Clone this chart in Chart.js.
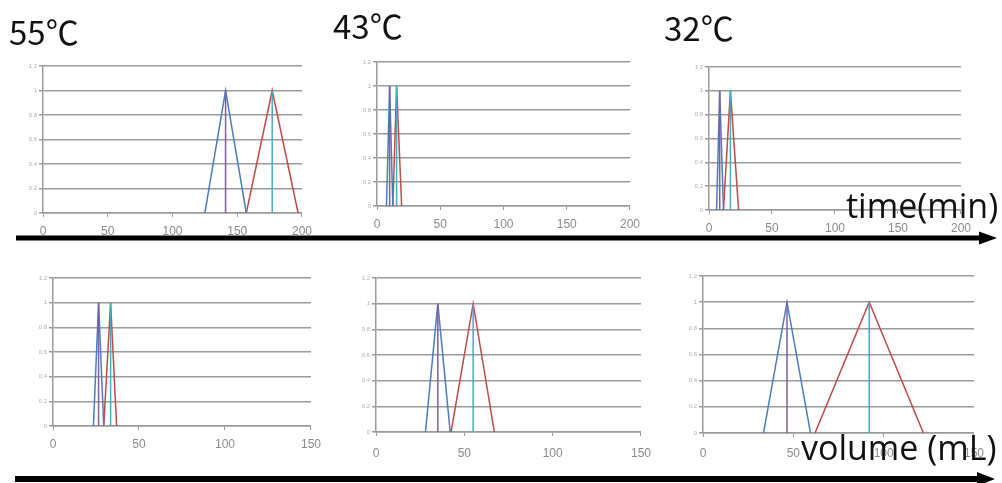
<!DOCTYPE html>
<html>
<head>
<meta charset="utf-8">
<script src="https://cdn.jsdelivr.net/npm/chart.js@4.4.1/dist/chart.umd.min.js"></script>
<style>
  body { margin: 0; background: #fff; }
  #board { position: relative; width: 1002px; height: 483px; overflow: hidden; background: #fff; }
  #board canvas { position: absolute; }
  .temp { position: absolute; font-family: "Noto Sans CJK JP", sans-serif; font-size: 33px; line-height: 1; color: #111; z-index: 3; }
  .axisname { position: absolute; font-family: "Open Sans", sans-serif; font-size: 34px; line-height: 1; color: #111; z-index: 3; white-space: nowrap; }
  #arrows { position: absolute; left: 0; top: 0; z-index: 2; }
</style>
</head>
<body>
<div id="board">
  <canvas id="t55"></canvas>
  <canvas id="t43"></canvas>
  <canvas id="t32"></canvas>
  <canvas id="v55"></canvas>
  <canvas id="v43"></canvas>
  <canvas id="v32"></canvas>

  <svg id="arrows" width="1002" height="483">
    <line x1="16" y1="238" x2="982" y2="238" stroke="#000" stroke-width="5"/>
    <polygon points="979,231.5 997,238 979,244.5" fill="#000"/>
    <line x1="15" y1="479" x2="980" y2="479" stroke="#000" stroke-width="6"/>
    <polygon points="977,472 995,479 977,486" fill="#000"/>
  </svg>

  <div class="temp" id="title0" style="left:9px; top:15px;"></div>
  <div class="temp" id="title1" style="left:333px; top:9px;"></div>
  <div class="temp" id="title2" style="left:664px; top:11px;"></div>
  <div class="axisname" style="left:846px; top:188px;">time(min)</div>
  <div class="axisname" style="left:801px; top:430px;">volume (mL)</div>
</div>

<script>
// peak shape: baseline, apex, baseline
const peakY = [0, 1, 0];

// elution profiles vs time (min)
const time55Blue = [125, 141, 157];
const time55Red = [157, 177, 197];
const time43Blue = [7.5, 10, 12.5];
const time43Red = [12.5, 15.5, 19.5];
const time32Blue = [6, 8.5, 11.5];
const time32Red = [11.5, 17, 23.5];

// elution profiles vs volume (mL)
const vol55Blue = [23.5, 26.5, 29.5];
const vol55Red = [29.5, 33.5, 37];
const vol43Blue = [28, 35, 42];
const vol43Red = [42.5, 55, 67];
const vol32Blue = [33.5, 46.5, 59.5];
const vol32Red = [62, 92, 122];

const timeTicks = [0, 50, 100, 150, 200];
const volTicks = [0, 50, 100, 150];
const yTicks = [0, 0.2, 0.4, 0.6, 0.8, 1, 1.2];
const titles = ["55℃", "43℃", "32℃"];

titles.forEach((t, i) => { document.getElementById("title" + i).textContent = t; });

const GRID = "#9a9a9a";
const BLUE = "#4a7ebb";
const RED = "#be4b48";
const PURPLE = "#7d60a0";
const CYAN = "#46aac5";

const yW = 34, xH = 34, padTop = 6, padRight = 16;

function tri(xs) {
  return xs.map((x, i) => ({ x: x, y: peakY[i] }));
}
function marker(xs) {
  const apex = xs[1];
  return [{ x: apex, y: 0 }, { x: apex, y: peakY[1] }];
}
function series(data, color) {
  return { data: data, borderColor: color, borderWidth: 1.5, showLine: true, pointRadius: 0, fill: false, tension: 0 };
}

function makePanel(id, box, xTicks, blue, red, labelPad) {
  const cv = document.getElementById(id);
  const w = box.right - box.left + yW + padRight;
  const h = box.bottom - box.top + padTop + xH;
  cv.width = w; cv.height = h;
  cv.style.left = (box.left - yW) + "px";
  cv.style.top = (box.top - padTop) + "px";
  cv.style.width = w + "px"; cv.style.height = h + "px";

  new Chart(cv.getContext("2d"), {
    type: "scatter",
    data: {
      datasets: [
        series(marker(blue), PURPLE),
        series(marker(red), CYAN),
        series(tri(blue), BLUE),
        series(tri(red), RED)
      ]
    },
    options: {
      responsive: false,
      animation: false,
      devicePixelRatio: 1,
      layout: { padding: { top: padTop, right: padRight, left: 0, bottom: 0 } },
      plugins: { legend: { display: false }, tooltip: { enabled: false } },
      scales: {
        x: {
          type: "linear",
          min: xTicks[0],
          max: xTicks[xTicks.length - 1],
          afterBuildTicks: s => { s.ticks = xTicks.map(v => ({ value: v })); },
          afterFit: s => { s.height = xH; },
          grid: { drawOnChartArea: false, color: GRID, tickLength: 4, lineWidth: 1 },
          border: { color: GRID, width: 1.5 },
          ticks: { autoSkip: false, maxRotation: 0, padding: labelPad, color: "#8a8a8a",
                   font: { family: "Liberation Sans", size: 12 } }
        },
        y: {
          type: "linear",
          min: 0,
          max: 1.2,
          afterBuildTicks: s => { s.ticks = yTicks.map(v => ({ value: v })); },
          afterFit: s => { s.width = yW; },
          grid: { color: GRID, lineWidth: 1.5, tickLength: 4 },
          border: { color: GRID, width: 1.5 },
          ticks: { padding: 2, color: "#b0b0b0", font: { family: "Liberation Sans", size: 6 },
                   callback: v => String(v) }
        }
      }
    }
  });
}

makePanel("t55", { left: 43, top: 66, right: 303, bottom: 213 }, timeTicks, time55Blue, time55Red, 7);
makePanel("t43", { left: 377, top: 62, right: 631, bottom: 206 }, timeTicks, time43Blue, time43Red, 7);
makePanel("t32", { left: 709, top: 67, right: 962, bottom: 210 }, timeTicks, time32Blue, time32Red, 7);
makePanel("v55", { left: 53, top: 278, right: 312, bottom: 426 }, volTicks, vol55Blue, vol55Red, 7);
makePanel("v43", { left: 376, top: 278, right: 645, bottom: 432 }, volTicks, vol43Blue, vol43Red, 10);
makePanel("v32", { left: 703, top: 276, right: 977, bottom: 433 }, volTicks, vol32Blue, vol32Red, 9);
</script>
</body>
</html>
